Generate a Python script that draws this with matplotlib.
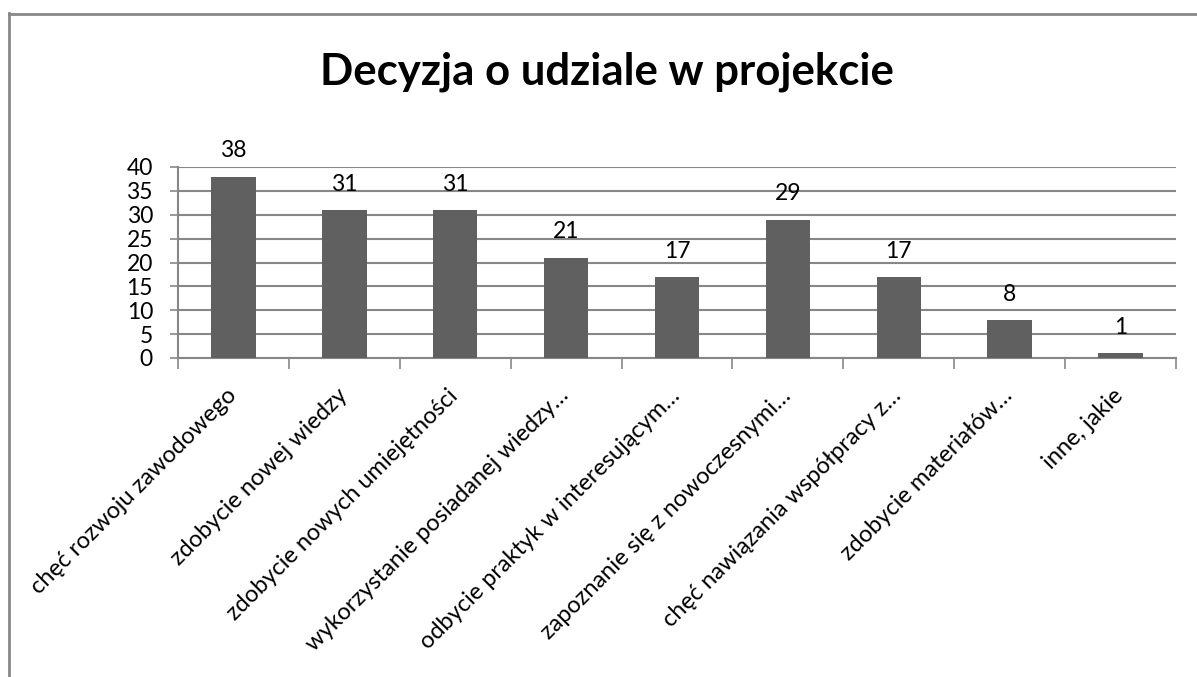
import matplotlib.pyplot as plt
from matplotlib.lines import Line2D
from matplotlib.transforms import ScaledTranslation

categories = [
    'chęć rozwoju zawodowego',
    'zdobycie nowej wiedzy',
    'zdobycie nowych umiejętności',
    'wykorzystanie posiadanej wiedzy…',
    'odbycie praktyk w interesującym…',
    'zapoznanie się z nowoczesnymi…',
    'chęć nawiązania współpracy z…',
    'zdobycie materiałów…',
    'inne, jakie',
]
values = [38, 31, 31, 21, 17, 29, 17, 8, 1]
yticks = [0, 5, 10, 15, 20, 25, 30, 35, 40]

plt.rcParams['font.family'] = ['Lato', 'DejaVu Sans']

W, H = 1197, 677
fig = plt.figure(figsize=(W / 100, H / 100), dpi=100)
ax = fig.add_axes([178 / W, 1 - 358 / H, (1176 - 178) / W, (358 - 167) / H])

axis_col = '#878787'
x = range(len(categories))
ax.bar(x, values, width=0.4, color='#606060', zorder=3)

for xi, v in zip(x, values):
    ax.annotate(str(v), (xi, v), xytext=(0, 11), textcoords='offset points',
                ha='center', va='bottom', fontsize=16.5)

ax.set_xlim(-0.5, len(categories) - 0.5)
ax.set_ylim(0, 40)
ax.set_yticks(yticks)
ax.yaxis.grid(True, color=axis_col, linewidth=1.5, zorder=0)
ax.tick_params(axis='y', labelsize=16.5, length=6, color=axis_col, width=1.2, pad=12)

# category boundary ticks on x axis
ax.set_xticks([i - 0.5 for i in range(len(categories) + 1)])
ax.set_xticklabels([])
ax.tick_params(axis='x', length=8, color=axis_col, width=1.2, direction='out')
ax.set_xticks(list(x), minor=True)
ax.set_xticklabels(categories, minor=True, rotation=45, ha='right', va='top',
                   rotation_mode='anchor', fontsize=17)
ax.tick_params(axis='x', which='minor', length=0, pad=0)
shift = ScaledTranslation(-8 / 100, -27 / 100, fig.dpi_scale_trans)
for lbl in ax.get_xticklabels(minor=True):
    lbl.set_transform(lbl.get_transform() + shift)

for s in ['top', 'right']:
    ax.spines[s].set_visible(False)
for s in ['left', 'bottom']:
    ax.spines[s].set_color(axis_col)
    ax.spines[s].set_linewidth(1.5)

fig.text(607 / W, 1 - 85 / H, 'Decyzja o udziale w projekcie', ha='center', va='baseline',
         fontsize=31.5, fontweight='bold')

# chart border (top and left edges visible)
fig.add_artist(Line2D([8.5 / W, 8.5 / W], [0, 1 - 13 / H], transform=fig.transFigure,
                      color='#888888', linewidth=2))
fig.add_artist(Line2D([8.5 / W, 1], [1 - 13.5 / H, 1 - 13.5 / H], transform=fig.transFigure,
                      color='#888888', linewidth=2))

fig.savefig('out.png', dpi=100)
